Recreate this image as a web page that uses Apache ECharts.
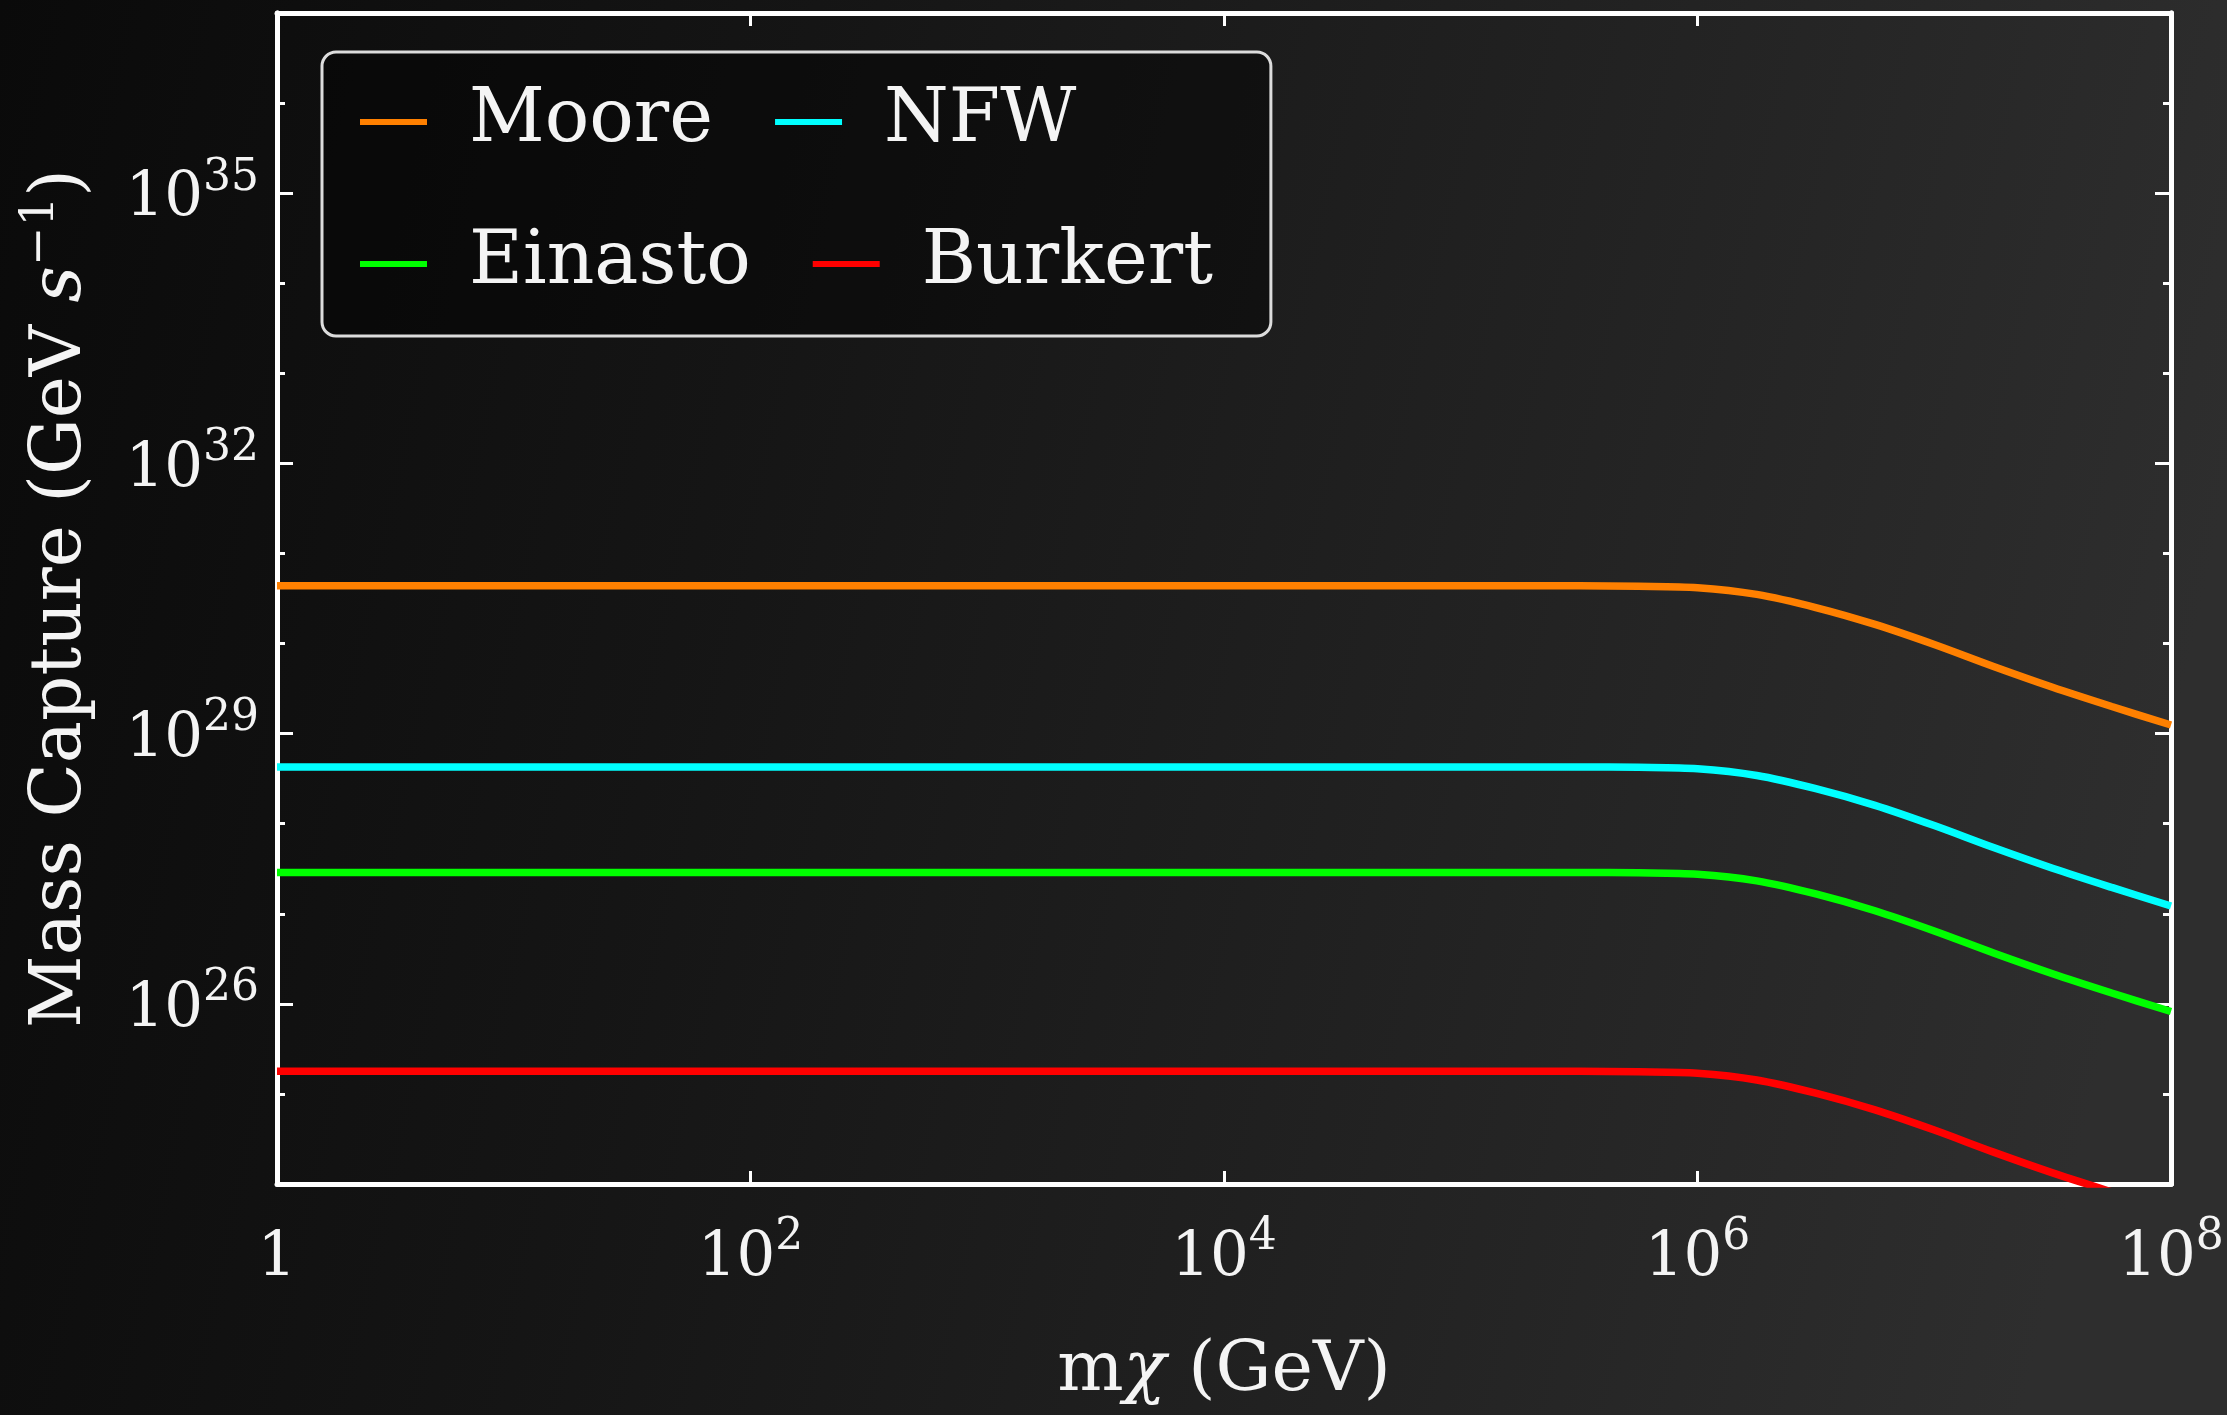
<!DOCTYPE html>
<html>
<head>
<meta charset="utf-8">
<title>Mass Capture vs Dark Matter Mass</title>
<script src="https://cdn.jsdelivr.net/npm/echarts@6/dist/echarts.min.js"></script>
<style>
  html, body { margin: 0; padding: 0; width: 2227px; height: 1415px; overflow: hidden; background: #111; }
  #chart { width: 2227px; height: 1415px; }
</style>
</head>
<body>
<div id="chart"></div>
<script>
// Dark matter mass m_chi (GeV) at the sampled points
const massGeV = [1, 10, 100, 1e3, 1e4, 1e5, 3.16e5, 5.62e5, 1e6, 1.78e6, 3.16e6, 5.62e6, 1e7, 1.78e7, 3.16e7, 5.62e7, 1e8];

// Mass capture rate (GeV s^-1) for each halo density profile
const mooreCapture   = [4.37e30, 4.37e30, 4.37e30, 4.37e30, 4.37e30, 4.37e30, 4.37e30, 4.32e30, 4.17e30, 3.51e30, 2.51e30, 1.63e30, 9.75e29, 5.56e29, 3.27e29, 2.00e29, 1.245e29];
const nfwCapture     = [4.27e28, 4.27e28, 4.27e28, 4.27e28, 4.27e28, 4.27e28, 4.27e28, 4.22e28, 4.07e28, 3.43e28, 2.45e28, 1.60e28, 9.53e27, 5.43e27, 3.20e27, 1.96e27, 1.22e27];
const einastoCapture = [2.88e27, 2.88e27, 2.88e27, 2.88e27, 2.88e27, 2.88e27, 2.88e27, 2.85e27, 2.75e27, 2.32e27, 1.66e27, 1.08e27, 6.44e26, 3.67e26, 2.16e26, 1.32e26, 8.22e25];
const burkertCapture = [1.78e25, 1.78e25, 1.78e25, 1.78e25, 1.78e25, 1.78e25, 1.78e25, 1.76e25, 1.70e25, 1.43e25, 1.02e25, 6.65e24, 3.97e24, 2.26e24, 1.33e24, 8.17e23, 5.07e23];

const profileNames  = ['Moore', 'NFW', 'Einasto', 'Burkert'];
const profileColors = ['#ff8000', '#00ffff', '#00ff00', '#ff0000'];

// Axis extents and labelled ticks, in decades (powers of ten)
const xDecadeRange   = [0, 8];
const xLabelDecades  = [0, 2, 4, 6, 8];
const yDecadeRange   = [24, 37];
const yLabelDecades  = [26, 29, 32, 35];

const FONT = 'DejaVu Serif';
const INK = '#f4f4f4';

// both axes are logarithmic: positions are taken in decades
function toDecades(xs, ys) {
  return xs.map((x, i) => [Math.log10(x), Math.log10(ys[i])]);
}

function powerLabel(e) {
  return e === 0 ? '{b|1}' : '{b|10}{s|' + e + '}';
}

const tickRich = {
  b: { fontFamily: FONT, fontSize: 61, lineHeight: 74, color: INK, verticalAlign: 'bottom' },
  s: { fontFamily: FONT, fontSize: 44, lineHeight: 42, color: INK, verticalAlign: 'top' }
};

const frameLine = { show: true, onZero: false, lineStyle: { color: '#ffffff', width: 5 } };
const tickLine = { color: '#ffffff', width: 3 };

function xAxisDef(position, withLabels) {
  const ax = {
    type: 'value', position: position,
    min: xDecadeRange[0], max: xDecadeRange[1], interval: 2,
    axisLine: frameLine,
    axisTick: { show: true, inside: true, length: 13, lineStyle: tickLine, customValues: xLabelDecades },
    axisLabel: withLabels
      ? { show: true, customValues: xLabelDecades, formatter: powerLabel, margin: 32, rich: tickRich, showMinLabel: true, showMaxLabel: true, hideOverlap: false }
      : { show: false },
    splitLine: { show: false }
  };
  if (withLabels) {
    ax.name = '{t|m}{g|χ}{t| (GeV)}';
    ax.nameLocation = 'middle';
    ax.nameGap = 150;
    ax.nameTextStyle = {
      rich: {
        t: { fontFamily: FONT, fontSize: 70, lineHeight: 76, color: INK },
        g: { fontFamily: FONT, fontSize: 70, lineHeight: 76, color: INK, fontStyle: 'italic' }
      }
    };
  }
  return ax;
}

function yMinorAxis(position) {
  return {
    type: 'value', position: position,
    min: yDecadeRange[0], max: yDecadeRange[1], interval: 1,
    axisLine: frameLine,
    axisTick: { show: true, inside: true, length: 8, lineStyle: tickLine },
    axisLabel: { show: false },
    splitLine: { show: false }
  };
}

function yMajorAxis(position, withLabels) {
  const ax = {
    type: 'value', position: position,
    min: yDecadeRange[0], max: yDecadeRange[1], interval: 1,
    axisLine: frameLine,
    axisTick: { show: true, inside: true, length: 16, lineStyle: tickLine, customValues: yLabelDecades },
    axisLabel: withLabels
      ? { show: true, customValues: yLabelDecades, formatter: powerLabel, margin: 18, rich: tickRich, hideOverlap: false }
      : { show: false },
    splitLine: { show: false }
  };
  if (withLabels) {
    ax.name = '{t|Mass Capture (GeV }{i|s}{p|−1}{t|)}';
    ax.nameLocation = 'middle';
    ax.nameRotate = 90;
    ax.nameGap = 180;
    ax.nameTextStyle = {
      rich: {
        t: { fontFamily: FONT, fontSize: 71, lineHeight: 80, color: INK, verticalAlign: 'bottom' },
        i: { fontFamily: FONT, fontSize: 71, lineHeight: 80, color: INK, verticalAlign: 'bottom', fontStyle: 'italic' },
        p: { fontFamily: FONT, fontSize: 47, lineHeight: 46, color: INK, verticalAlign: 'top' }
      }
    };
  }
  return ax;
}

const captureSeries = [mooreCapture, nfwCapture, einastoCapture, burkertCapture];

const chart = echarts.init(document.getElementById('chart'), null, { renderer: 'canvas' });

chart.setOption({
  animation: false,
  backgroundColor: {
    type: 'linear', x: 0, y: 0, x2: 1, y2: 0.35,
    colorStops: [
      { offset: 0, color: '#0a0a0a' },
      { offset: 0.35, color: '#151515' },
      { offset: 0.7, color: '#222222' },
      { offset: 1, color: '#2e2e2e' }
    ]
  },
  grid: { left: 277, right: 56, top: 13, bottom: 231, containLabel: false },
  legend: {
    left: 322, top: 52,
    orient: 'horizontal',
    width: 880,
    padding: [30, 58, 32, 38],
    icon: 'rect',
    itemWidth: 67, itemHeight: 6, itemGap: 62,
    backgroundColor: 'rgba(0,0,0,0.4)',
    borderColor: '#dcdcdc', borderWidth: 3, borderRadius: 14,
    textStyle: { color: INK, fontFamily: FONT, fontSize: 74, lineHeight: 80, padding: [0, 0, 0, 37] },
    data: profileNames
  },
  xAxis: [xAxisDef('bottom', true), xAxisDef('top', false)],
  yAxis: [yMinorAxis('left'), yMajorAxis('left', true), yMinorAxis('right'), yMajorAxis('right', false)],
  series: profileNames.map((name, k) => ({
    name: name,
    type: 'line',
    xAxisIndex: 0,
    yAxisIndex: 0,
    data: toDecades(massGeV, captureSeries[k]),
    smooth: 0.3,
    symbol: 'none',
    showSymbol: false,
    clip: true,
    color: profileColors[k],
    lineStyle: { color: profileColors[k], width: 7.5 },
    z: 3
  }))
});
</script>
</body>
</html>
